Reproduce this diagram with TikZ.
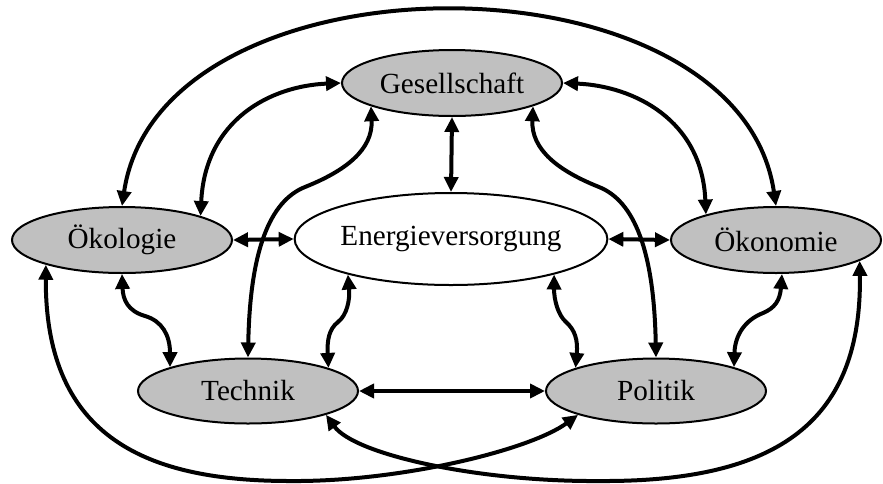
\documentclass[tikz,border=0pt]{standalone}
\usepackage{fontspec}
\setmainfont{Liberation Serif}
\usetikzlibrary{arrows.meta,shapes.geometric}
\definecolor{ovalgray}{RGB}{192,192,192}

\begin{document}
\begin{tikzpicture}
[x=0.5pt,y=-0.5pt,%%%%%%%%%%%%%%%%%%%%%%%%%%%%%%
oval/.style={ellipse,draw=black,line width=1pt,inner sep=0pt,font=\fontsize{14.6}{16}\selectfont},
grayoval/.style={oval,fill=ovalgray},
link/.style={{Triangle[length=7.5pt,width=7pt]}-{Triangle[length=7.5pt,width=7pt]},line width=2pt},
]%%%%%%%%%%%%%%%%%%%%%%%%%%%%%%

\useasboundingbox (0,0) rectangle (883,483);

\node[grayoval,minimum width=110pt,minimum height=33pt] (G) at (452,83) {Gesellschaft};
\node[grayoval,minimum width=110pt,minimum height=33pt] (O) at (122,240) {Ökologie};
\node[oval,fill=white,minimum width=141.5pt,minimum height=46pt] (E) at (451,239) {Energieversorgung};
\node[grayoval,minimum width=105pt,minimum height=33pt] (K) at (776,240) {Ökonomie};
\node[grayoval,minimum width=110pt,minimum height=32.5pt] (T) at (248,391) {Technik};
\node[grayoval,minimum width=110pt,minimum height=32.5pt] (P) at (656,391) {Politik};

% straight links
\draw[link] (G.south) -- (E.north);
\draw[link] (O.east) -- (E.west);
\draw[link] (E.east) -- (K.west);
\draw[link] (T.east) -- (P.west);

% upper arcs
\draw[link] (O.north) .. controls (160,-53) and (738,-53) .. (K.north);
\draw[link] (O.17) .. controls (205,120) and (270,86) .. (G.west);
\draw[link] (G.east) .. controls (634,86) and (702,120) .. (K.160);

% s-curves
\draw[link] (T.north) .. controls (250,250) and (270,201) .. (305,187)
  .. controls (345,171) and (373,150) .. (G.196);
\draw[link] (G.344) .. controls (531,150) and (559,171) .. (599,187)
  .. controls (634,201) and (654,250) .. (P.north);
\draw[link] (O.south) .. controls (123,300) and (128,311) .. (145,316)
  .. controls (162,321) and (170,335) .. (T.163);
\draw[link] (E.199) .. controls (350,300) and (347,315) .. (338,322)
  .. controls (329,329) and (327,340) .. (T.16);
\draw[link] (E.341) .. controls (554,300) and (558,315) .. (566,322)
  .. controls (575,330) and (578,340) .. (P.164);
\draw[link] (K.280) .. controls (780,300) and (775,308) .. (763,313)
  .. controls (745,320) and (735,335) .. (P.17);

% lower arcs
\draw[link] (O.198) .. controls (45,440) and (150,481) .. (290,481)
  .. controls (400,482) and (530,450) .. (P.197);
\draw[link] (T.343) .. controls (355,455) and (480,482) .. (600,481)
  .. controls (780,482) and (862,420) .. (K.346);
\end{tikzpicture}
\end{document}
